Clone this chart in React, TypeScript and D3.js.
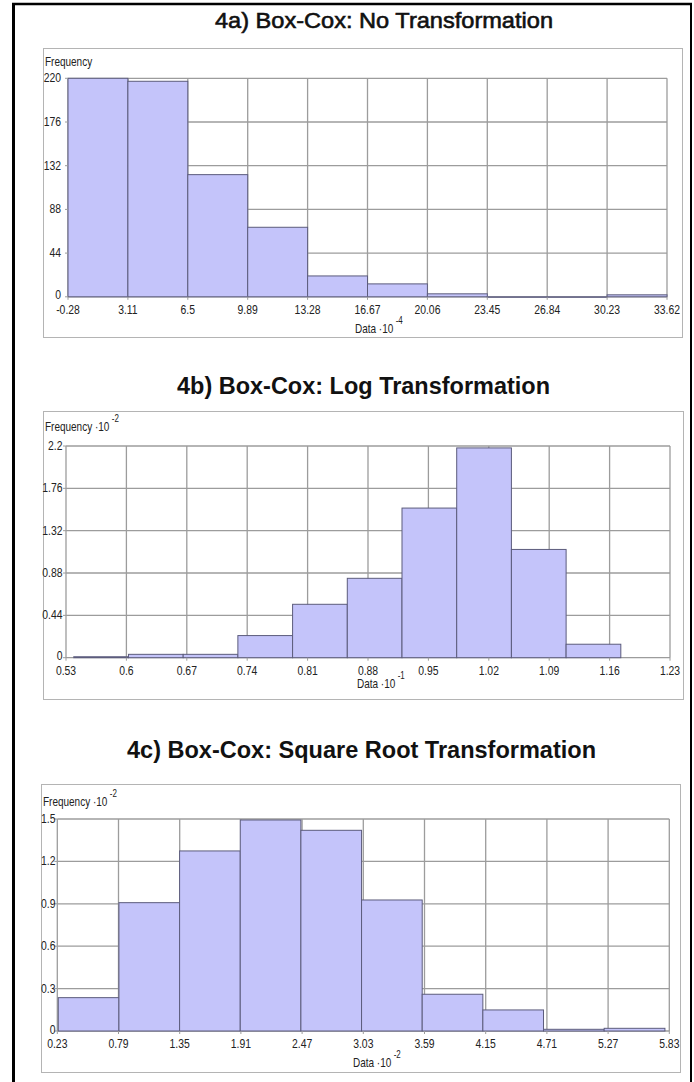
import React from "react";
import * as d3 from "d3";

// ---- 4a) No transformation (Data ·10^-4) ----
const rawTicksX = [-0.28, 3.11, 6.5, 9.89, 13.28, 16.67, 20.06, 23.45, 26.84, 30.23, 33.62];
const rawTicksY = [0, 44, 88, 132, 176, 220];
const rawEdges = [-0.28, 3.11, 6.5, 9.89, 13.28, 16.67, 20.06, 23.45, 26.84, 30.23, 33.62];
const rawCounts = [220, 217, 123, 70, 21, 13, 3, 0, 0, 2];

// ---- 4b) Log transformation (Data ·10^-1, Frequency ·10^-2) ----
const logTicksX = [0.53, 0.6, 0.67, 0.74, 0.81, 0.88, 0.95, 1.02, 1.09, 1.16, 1.23];
const logTicksY = [0, 0.44, 0.88, 1.32, 1.76, 2.2];
const logEdges = [0.539, 0.6024, 0.6658, 0.7292, 0.7926, 0.856, 0.9194, 0.9828, 1.0462, 1.1096, 1.173];
const logCounts = [0.01, 0.035, 0.035, 0.23, 0.555, 0.825, 1.555, 2.18, 1.125, 0.14];

// ---- 4c) Square root transformation (Data ·10^-2, Frequency ·10^-2) ----
const sqrtTicksX = [0.23, 0.79, 1.35, 1.91, 2.47, 3.03, 3.59, 4.15, 4.71, 5.27, 5.83];
const sqrtTicksY = [0, 0.3, 0.6, 0.9, 1.2, 1.5];
const sqrtEdges = [0.239, 0.794, 1.349, 1.904, 2.459, 3.014, 3.569, 4.124, 4.679, 5.234, 5.79];
const sqrtCounts = [0.236, 0.908, 1.274, 1.493, 1.42, 0.927, 0.26, 0.149, 0.012, 0.019];

const TITLE_FONT = "'Liberation Sans', Arial, sans-serif";
const AXIS_FONT = "'Liberation Sans', Arial, sans-serif";
const NARROW = 0.8; // horizontal squeeze for the condensed axis lettering
const GRID = "#9c9c9c";
const BAR_FILL = "#c4c4fa";
const BAR_STROKE = "#5c5c7c";

type Box = { x0: number; y0: number; x1: number; y1: number };

type PanelProps = {
  title: string;
  titleX: number;
  titleY: number;
  titleWidth: number;
  titleSize: number;
  titleWeight: number;
  box: Box;
  plot: Box;
  ticksX: number[];
  ticksY: number[];
  edges: number[];
  counts: number[];
  yLabelRight: number;
  freqExp: string | null;
  freqY: number;
  dataExp: string;
  dataX: number;
  dataY: number;
};

function Narrow(props: {
  x: number;
  y: number;
  size: number;
  anchor?: "start" | "middle" | "end";
  children: React.ReactNode;
}) {
  return (
    <text
      transform={`translate(${props.x},${props.y}) scale(${NARROW},1)`}
      textAnchor={props.anchor || "start"}
      fontFamily={AXIS_FONT}
      fontSize={props.size}
      fill="#222"
    >
      {props.children}
    </text>
  );
}

function Panel(p: PanelProps) {
  const x = d3
    .scaleLinear()
    .domain([p.ticksX[0], p.ticksX[p.ticksX.length - 1]])
    .range([p.plot.x0, p.plot.x1]);
  const y = d3
    .scaleLinear()
    .domain([p.ticksY[0], p.ticksY[p.ticksY.length - 1]])
    .range([p.plot.y1, p.plot.y0]);

  const bins = p.counts.map((c, i) => ({ a: p.edges[i], b: p.edges[i + 1], c }));

  return (
    <g>
      <text
        x={p.titleX}
        y={p.titleY}
        textAnchor="middle"
        fontFamily={TITLE_FONT}
        fontWeight={p.titleWeight}
        fontSize={p.titleSize}
        textLength={p.titleWidth}
        lengthAdjust="spacingAndGlyphs"
        fill="#111"
        stroke={p.titleWeight < 700 ? "#111" : "none"}
        strokeWidth={p.titleWeight < 700 ? 0.6 : 0}
      >
        {p.title}
      </text>

      <rect
        x={p.box.x0}
        y={p.box.y0}
        width={p.box.x1 - p.box.x0}
        height={p.box.y1 - p.box.y0}
        fill="#fff"
        stroke="#b4b4b4"
        strokeWidth={1}
      />

      {/* grid */}
      {p.ticksY.map((t) => (
        <line key={"gy" + t} x1={p.plot.x0} x2={p.plot.x1} y1={y(t)} y2={y(t)} stroke={GRID} strokeWidth={1.3} />
      ))}
      {p.ticksX.map((t) => (
        <line key={"gx" + t} x1={x(t)} x2={x(t)} y1={p.plot.y0} y2={p.plot.y1} stroke={GRID} strokeWidth={1.3} />
      ))}

      {/* bars */}
      {bins.map((d, i) => (
        <rect
          key={"b" + i}
          x={x(d.a)}
          y={y(d.c)}
          width={x(d.b) - x(d.a)}
          height={Math.max(0.5, y(0) - y(d.c))}
          fill={BAR_FILL}
          stroke={BAR_STROKE}
          strokeWidth={1}
        />
      ))}

      {/* ticks */}
      {p.ticksY.map((t) => (
        <line key={"ty" + t} x1={p.plot.x0 - 3} x2={p.plot.x0} y1={y(t)} y2={y(t)} stroke={GRID} strokeWidth={1} />
      ))}
      {p.ticksX.map((t) => (
        <line key={"tx" + t} x1={x(t)} x2={x(t)} y1={p.plot.y1} y2={p.plot.y1 + 3} stroke={GRID} strokeWidth={1} />
      ))}

      {/* tick labels */}
      {p.ticksY.map((t) => (
        <Narrow key={"ly" + t} x={p.yLabelRight} y={y(t) + (t === 0 ? 2.5 : 4)} size={13} anchor="end">
          {String(t)}
        </Narrow>
      ))}
      {p.ticksX.map((t) => (
        <Narrow key={"lx" + t} x={x(t)} y={p.plot.y1 + 17} size={13} anchor="middle">
          {String(t)}
        </Narrow>
      ))}

      {/* axis titles */}
      <Narrow x={p.box.x0 + 1.5} y={p.freqY} size={12.5}>
        {p.freqExp ? "Frequency \u00b710" : "Frequency"}
        {p.freqExp ? (
          <tspan dx={3} dy={-9} fontSize={10}>
            {p.freqExp}
          </tspan>
        ) : null}
      </Narrow>
      <Narrow x={p.dataX} y={p.dataY} size={12.5}>
        {"Data \u00b710"}
        <tspan dx={3} dy={-9} fontSize={10}>
          {p.dataExp}
        </tspan>
      </Narrow>
    </g>
  );
}

export default function App() {
  return (
    <svg
      width={694}
      height={1082}
      viewBox="0 0 694 1082"
      style={{ position: "absolute", left: 0, top: 0, background: "#fff" }}
    >
      <rect x={0} y={0} width={694} height={1082} fill="#fff" />
      {/* frame */}
      <line x1={13.5} x2={13.5} y1={3} y2={1082} stroke="#000" strokeWidth={3} />
      <line x1={12} x2={692} y1={4} y2={4} stroke="#000" strokeWidth={2.5} />
      <line x1={691} x2={691} y1={3} y2={1082} stroke="#000" strokeWidth={2} />

      <Panel
        title="4a) Box-Cox: No Transformation"
        titleX={384}
        titleY={28}
        titleWidth={338}
        titleSize={22}
        titleWeight={400}
        box={{ x0: 43.5, y0: 48.5, x1: 682.5, y1: 337.5 }}
        plot={{ x0: 68, y0: 78.3, x1: 667, y1: 296.8 }}
        ticksX={rawTicksX}
        ticksY={rawTicksY}
        edges={rawEdges}
        counts={rawCounts}
        yLabelRight={61}
        freqExp={null}
        freqY={65.5}
        dataExp="-4"
        dataX={355}
        dataY={333}
      />
      <Panel
        title="4b) Box-Cox: Log Transformation"
        titleX={363.5}
        titleY={394}
        titleWidth={373}
        titleSize={23}
        titleWeight={700}
        box={{ x0: 43.5, y0: 411.5, x1: 683.5, y1: 699.5 }}
        plot={{ x0: 66, y0: 446, x1: 670, y1: 657.7 }}
        ticksX={logTicksX}
        ticksY={logTicksY}
        edges={logEdges}
        counts={logCounts}
        yLabelRight={62.5}
        freqExp="-2"
        freqY={431}
        dataExp="-1"
        dataX={357}
        dataY={688}
      />
      <Panel
        title="4c) Box-Cox: Square Root Transformation"
        titleX={361.5}
        titleY={758}
        titleWidth={469}
        titleSize={23}
        titleWeight={700}
        box={{ x0: 41.5, y0: 784.5, x1: 680.5, y1: 1072.5 }}
        plot={{ x0: 57.3, y0: 819, x1: 669.3, y1: 1031 }}
        ticksX={sqrtTicksX}
        ticksY={sqrtTicksY}
        edges={sqrtEdges}
        counts={sqrtCounts}
        yLabelRight={55.5}
        freqExp="-2"
        freqY={806}
        dataExp="-2"
        dataX={353}
        dataY={1067}
      />
    </svg>
  );
}
